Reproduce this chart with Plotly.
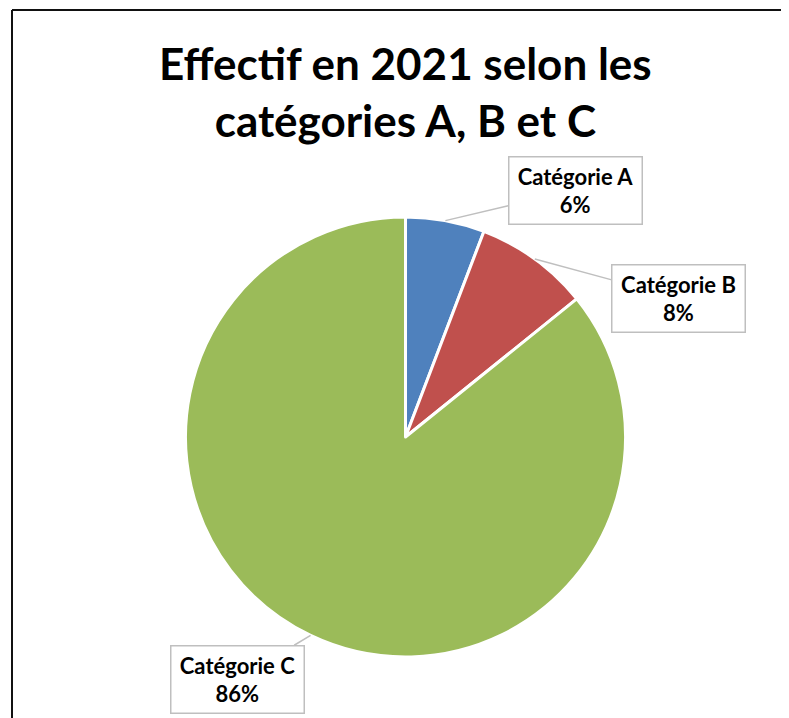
import math
import plotly.graph_objects as go

categories = ["Catégorie A", "Catégorie B", "Catégorie C"]
values = [5.8, 8.4, 85.8]
colors = ["#4F81BD", "#C0504D", "#9BBB59"]
title_text = "Effectif en 2021 selon les<br>catégories A, B et C"

W, H = 781, 710
OFF = 8  # page body margin
cx, cy, r = 405.5 - OFF, 437.0 - OFF, 220.0
# label box centres (pixels, reference coords)
box_centres = [(575 - OFF, 190 - OFF), (678.5 - OFF, 298 - OFF), (237.5 - OFF, 679 - OFF)]

fig = go.Figure()
fig.add_trace(go.Pie(
    labels=categories, values=values, sort=False, direction="clockwise", rotation=0,
    marker=dict(colors=colors, line=dict(color="white", width=3)),
    textinfo="none", hoverinfo="label+percent", showlegend=False,
    domain=dict(x=[(cx - r) / W, (cx + r) / W], y=[(H - cy - r) / H, (H - cy + r) / H]),
))

total = sum(values)
cum = 0.0
annotations = []
for cat, v, (bx, by) in zip(categories, values, box_centres):
    mid = (cum + v / 2) / total * 2 * math.pi
    cum += v
    px = cx + r * math.sin(mid)
    py = cy - r * math.cos(mid)
    pct = round(v / total * 100)
    annotations.append(dict(
        x=px / W, y=1 - py / H, xref="paper", yref="paper",
        ax=bx - px, ay=by - py, axref="pixel", ayref="pixel",
        text=f"<b>{cat}<br>{pct}%</b>", showarrow=True, arrowhead=0,
        arrowcolor="#BFBFBF", arrowwidth=1.5,
        font=dict(family="Lato, Open Sans, sans-serif", size=22, color="black"),
        bgcolor="white", bordercolor="#BFBFBF", borderwidth=1.5, borderpad=4,
        width=124, height=58, align="center",
    ))

annotations.append(dict(
    x=(405.5 - OFF) / W, y=1 - (92 - OFF) / H, xref="paper", yref="paper", showarrow=False,
    xanchor="center", yanchor="middle",
    text=f"<b>{title_text}</b>", align="center",
    font=dict(family="Lato, Open Sans, sans-serif", size=44, color="black"),
))

bx0 = (12 - OFF) / W
by1 = 1 - (10 - OFF) / H
frame = dict(color="#111111", width=2)
fig.update_layout(
    width=W, height=H, margin=dict(l=0, r=0, t=0, b=0),
    paper_bgcolor="white", plot_bgcolor="white",
    annotations=annotations,
    shapes=[
        dict(type="line", xref="paper", yref="paper", x0=bx0, x1=bx0, y0=-0.5, y1=by1, line=frame),
        dict(type="line", xref="paper", yref="paper", x0=bx0, x1=1.5, y0=by1, y1=by1, line=frame),
    ],
)

fig.write_html(
    "out.html",
    post_script="document.body.style.overflow='hidden';document.documentElement.style.overflow='hidden';",
)
